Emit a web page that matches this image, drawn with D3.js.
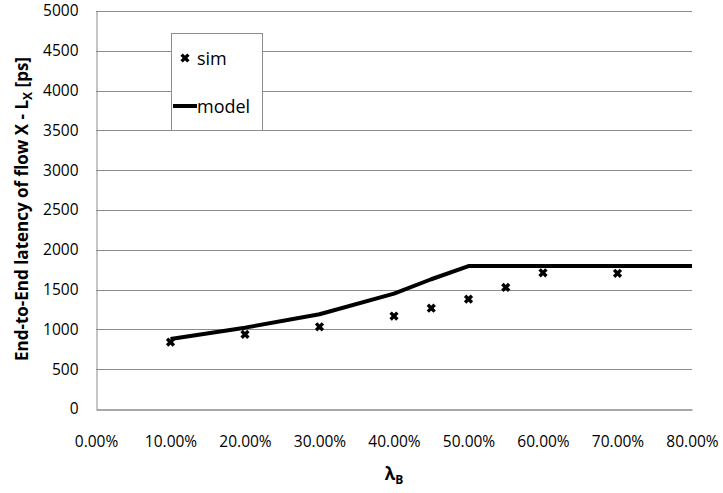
<!DOCTYPE html>
<html>
<head>
<meta charset="utf-8">
<script src="https://cdn.jsdelivr.net/npm/d3@7"></script>
<style>
  body { margin: 0; background: #fff; }
  text { font-family: "Open Sans", "Noto Sans", sans-serif; fill: #000; }
  .grid line { stroke: #8c8c8c; stroke-width: 1; }
  .axis path, .axis line { stroke: #8c8c8c; }
  .axis text { font-size: 15.5px; }
</style>
</head>
<body>
<svg class="chart" width="723" height="493"></svg>
<script>
var xTicks = [0, 0.1, 0.2, 0.3, 0.4, 0.5, 0.6, 0.7, 0.8];
var yTicks = [0, 500, 1000, 1500, 2000, 2500, 3000, 3500, 4000, 4500, 5000];

var simX = [0.10, 0.20, 0.30, 0.40, 0.45, 0.50, 0.55, 0.60, 0.70];
var simY = [840, 937, 1033, 1168, 1266, 1380, 1528, 1711, 1705];

var modelX = [0.10, 0.20, 0.30, 0.40, 0.45, 0.50, 0.60, 0.70, 0.80];
var modelY = [880, 1022, 1190, 1450, 1630, 1795, 1795, 1795, 1795];

(function() {
  var margin = {top: 11, right: 31, bottom: 84, left: 96};

  var svg = d3.select(".chart"),
      width = +svg.attr("width") - margin.left - margin.right,
      height = +svg.attr("height") - margin.top - margin.bottom;

  var chart = svg.append("g")
    .attr("transform", "translate(" + margin.left + "," + margin.top + ")");

  var xScale = d3.scaleLinear().domain([0, 0.8]).range([0, width]);
  var yScale = d3.scaleLinear().domain([0, 5000]).range([height, 0]);

  // horizontal gridlines
  chart.append("g")
    .attr("class", "grid")
    .selectAll("line")
    .data(yTicks.slice(1))
    .enter().append("line")
    .attr("x1", 0)
    .attr("x2", width)
    .attr("y1", function(d) { return Math.round(yScale(d)) + 0.5; })
    .attr("y2", function(d) { return Math.round(yScale(d)) + 0.5; });

  // x axis
  var xAxis = d3.axisBottom(xScale)
    .tickValues(xTicks)
    .tickSize(0)
    .tickPadding(26)
    .tickFormat(function(d) { return (d * 100).toFixed(2) + "%"; });

  chart.append("g")
    .attr("class", "axis")
    .attr("transform", "translate(0," + (Math.round(height) + 0.5) + ")")
    .call(xAxis)
    .call(function(g) { g.select(".domain").attr("stroke-width", 1.5); });

  // y axis
  var yAxis = d3.axisLeft(yScale)
    .tickValues(yTicks)
    .tickSize(0)
    .tickPadding(18)
    .tickFormat(d3.format("d"));

  chart.append("g")
    .attr("class", "axis")
    .attr("transform", "translate(0.5,0)")
    .call(yAxis);

  // model line
  var line = d3.line()
    .x(function(d) { return xScale(d[0]); })
    .y(function(d) { return yScale(d[1]); });

  chart.append("path")
    .datum(modelX.map(function(x, i) { return [x, modelY[i]]; }))
    .attr("fill", "none")
    .attr("stroke", "#000")
    .attr("stroke-width", 4)
    .attr("stroke-linejoin", "round")
    .attr("d", line);

  // sim markers
  var cross = "M-3.4,-3.4L3.4,3.4M-3.4,3.4L3.4,-3.4";
  chart.selectAll(".sim")
    .data(simX.map(function(x, i) { return [x, simY[i]]; }))
    .enter().append("path")
    .attr("class", "sim")
    .attr("transform", function(d) {
      return "translate(" + xScale(d[0]) + "," + yScale(d[1]) + ")";
    })
    .attr("d", cross)
    .attr("stroke", "#000")
    .attr("stroke-width", 3.4);

  // legend
  var legend = svg.append("g").attr("transform", "translate(171,33)");
  legend.append("rect")
    .attr("x", 0.5).attr("y", 0.5)
    .attr("width", 91).attr("height", 97)
    .attr("fill", "#fff")
    .attr("stroke", "#8c8c8c");
  legend.append("path")
    .attr("transform", "translate(14,25)")
    .attr("d", cross)
    .attr("stroke", "#000")
    .attr("stroke-width", 3.4);
  legend.append("text")
    .attr("x", 26).attr("y", 32)
    .style("font-size", "18px")
    .text("sim");
  legend.append("line")
    .attr("x1", 2).attr("x2", 26)
    .attr("y1", 73).attr("y2", 73)
    .attr("stroke", "#000")
    .attr("stroke-width", 4);
  legend.append("text")
    .attr("x", 26).attr("y", 80)
    .style("font-size", "18px")
    .text("model");

  // y axis title
  var yTitle = svg.append("text")
    .attr("transform", "translate(28,209) rotate(-90)")
    .attr("text-anchor", "middle")
    .style("font-size", "17px")
    .style("font-weight", "bold");
  yTitle.append("tspan").text("End-to-End latency of flow X - L");
  yTitle.append("tspan").attr("dy", 4).style("font-size", "12px").text("X");
  yTitle.append("tspan").attr("dy", -4).text(" [ps]");

  // x axis title
  var xTitle = svg.append("text")
    .attr("x", margin.left + width / 2)
    .attr("y", 480)
    .attr("text-anchor", "middle")
    .style("font-size", "17px")
    .style("font-weight", "bold");
  xTitle.append("tspan").text("λ");
  xTitle.append("tspan").attr("dy", 4).style("font-size", "12px").text("B");
})();
</script>
</body>
</html>
